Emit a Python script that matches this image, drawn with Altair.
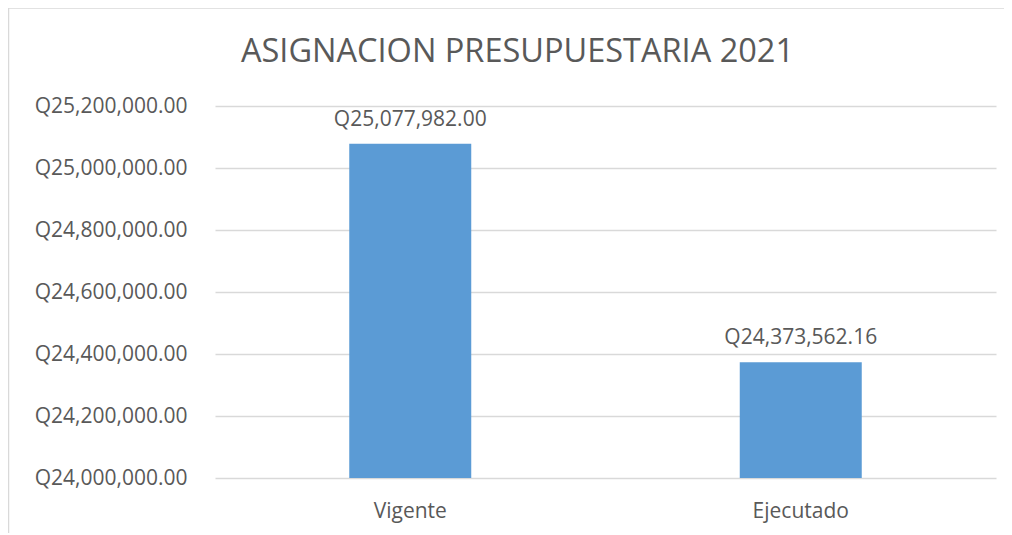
import altair as alt
import pandas as pd

categories = ["Vigente", "Ejecutado"]
values = [25077982.00, 24373562.16]
y_ticks = [24000000, 24200000, 24400000, 24600000, 24800000, 25000000, 25200000]
y_min = 24000000
y_max = 25200000

df = pd.DataFrame({"categoria": categories, "monto": values})

FONT = "Open Sans"
TEXT = "#595959"
GRID = "#D9D9D9"
BAR = "#5B9BD5"

base = alt.Chart(df).encode(
    x=alt.X(
        "categoria:N", sort=categories, title=None,
        scale=alt.Scale(paddingInner=0, paddingOuter=0),
        axis=alt.Axis(labelAngle=0, ticks=False, domain=False, grid=False,
                      labelPadding=22, labelFont=FONT, labelFontSize=21,
                      labelColor=TEXT),
    ),
    y=alt.Y(
        "monto:Q", title=None,
        scale=alt.Scale(domain=[y_min, y_max], zero=False, nice=False),
        axis=alt.Axis(values=y_ticks,
                      labelExpr="'Q' + format(datum.value, ',.2f')",
                      grid=True, gridColor=GRID, gridWidth=1.3,
                      domain=False, ticks=False, labelPadding=28,
                      labelFont=FONT, labelFontSize=21, labelColor=TEXT),
    ),
)

bars = base.mark_bar(size=122, color=BAR).encode(y2=alt.datum(y_min))
labels = base.transform_calculate(
    etiqueta="'Q' + format(datum.monto, ',.2f')"
).mark_text(dy=-18, baseline="alphabetic", font=FONT, fontSize=21, color=TEXT).encode(
    text="etiqueta:N"
)

frame_df = pd.DataFrame({"k": [0]})
left_border = alt.Chart(frame_df).mark_rule(color=GRID, strokeWidth=1.5).encode(
    x=alt.value(-206.5), y=alt.value(-98), y2=alt.value(600)
)
top_border = alt.Chart(frame_df).mark_rule(color=GRID, strokeWidth=1.5).encode(
    x=alt.value(-206.5), x2=alt.value(1000), y=alt.value(-98)
)

chart = alt.layer(left_border, top_border, bars, labels).properties(
    width=781,
    height=372,
    title=alt.TitleParams(
        "ASIGNACION PRESUPUESTARIA 2021", font=FONT, fontSize=32.5,
        fontWeight="normal", color=TEXT, anchor="middle", dx=-88,
        baseline="alphabetic", offset=-87,
    ),
    autosize=alt.AutoSizeParams(type="none"),
    padding={"left": 207, "top": 98, "right": 8, "bottom": 55},
).configure_view(stroke=None)

chart.save("out.html", embed_options={"renderer": "svg", "actions": False})
